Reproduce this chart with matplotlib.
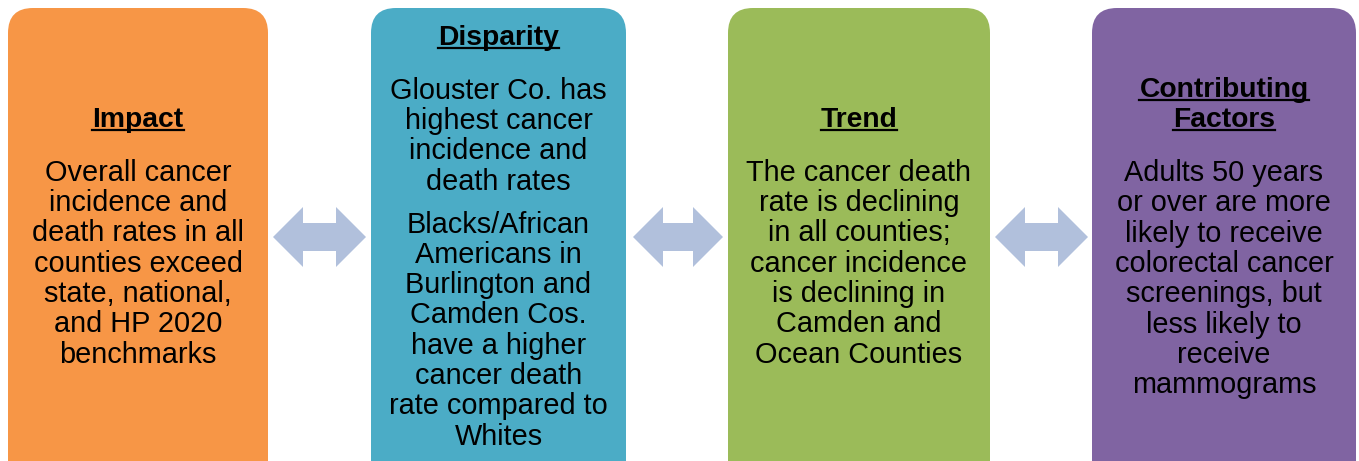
import matplotlib.pyplot as plt
from matplotlib.patches import FancyBboxPatch, Polygon
from matplotlib.lines import Line2D

plt.rcParams['font.family'] = ['Liberation Sans', 'DejaVu Sans']

titles = [["Impact"], ["Disparity"], ["Trend"], ["Contributing", "Factors"]]
bodies = [
    [["Overall cancer", "incidence and", "death rates in all", "counties exceed",
      "state, national,", "and HP 2020", "benchmarks"]],
    [["Glouster Co. has", "highest cancer", "incidence and", "death rates"],
     ["Blacks/African", "Americans in", "Burlington and", "Camden Cos.",
      "have a higher", "cancer death", "rate compared to", "Whites"]],
    [["The cancer death", "rate is declining", "in all counties;", "cancer incidence",
      "is declining in", "Camden and", "Ocean Counties"]],
    [["Adults 50 years", "or over are more", "likely to receive", "colorectal cancer",
      "screenings, but", "less likely to", "receive", "mammograms"]],
]
colors = ["#F79646", "#4BACC6", "#9BBB59", "#8064A2"]
arrow_color = "#B1C0DC"

# layout (pixels)
W, H = 1359, 461
box_x = [(8, 268), (371, 626), (728, 990), (1092, 1356)]
title_y = [118, 36, 118, 88]
arrow_x = [(273, 366), (633, 723), (995, 1088)]
line_h = 30.3
para_gap = 12.5

fig = plt.figure(figsize=(W / 100, H / 100), dpi=100)
ax = fig.add_axes([0, 0, 1, 1])
ax.set_xlim(0, W)
ax.set_ylim(H, 0)
ax.axis('off')

for i, (x0, x1) in enumerate(box_x):
    ax.add_patch(FancyBboxPatch((x0 + 25, 8 + 25), x1 - x0 - 50, H + 40,
                                boxstyle="round,pad=25", fc=colors[i], ec='none'))

underlines = []
for i, (x0, x1) in enumerate(box_x):
    cx = (x0 + x1) / 2
    y = title_y[i]
    for t in titles[i]:
        txt = ax.text(cx, y + 2, t, ha='center', va='center', fontsize=20.3,
                      fontweight='bold', color='black')
        underlines.append((txt, y))
        y += line_h
    y += para_gap + 11
    for k, para in enumerate(bodies[i]):
        if k > 0:
            y += para_gap
        for line in para:
            ax.text(cx, y + 1, line, ha='center', va='center', fontsize=20.8, color='black')
            y += line_h

for (a0, a1) in arrow_x:
    cy = 237
    head = 30
    hh = 30
    sh = 14
    pts = [(a0, cy), (a0 + head, cy - hh), (a0 + head, cy - sh), (a1 - head, cy - sh),
           (a1 - head, cy - hh), (a1, cy), (a1 - head, cy + hh), (a1 - head, cy + sh),
           (a0 + head, cy + sh), (a0 + head, cy + hh)]
    ax.add_patch(Polygon(pts, closed=True, fc=arrow_color, ec='none'))

fig.canvas.draw()
r = fig.canvas.get_renderer()
inv = ax.transData.inverted()
for txt, y in underlines:
    bb = txt.get_window_extent(r)
    (xa, _), (xb, _) = inv.transform([(bb.x0, 0), (bb.x1, 0)])
    ax.add_line(Line2D([xa, xb], [y + 12, y + 12], color='black', lw=1.6))

fig.savefig('out.png', dpi=100)
